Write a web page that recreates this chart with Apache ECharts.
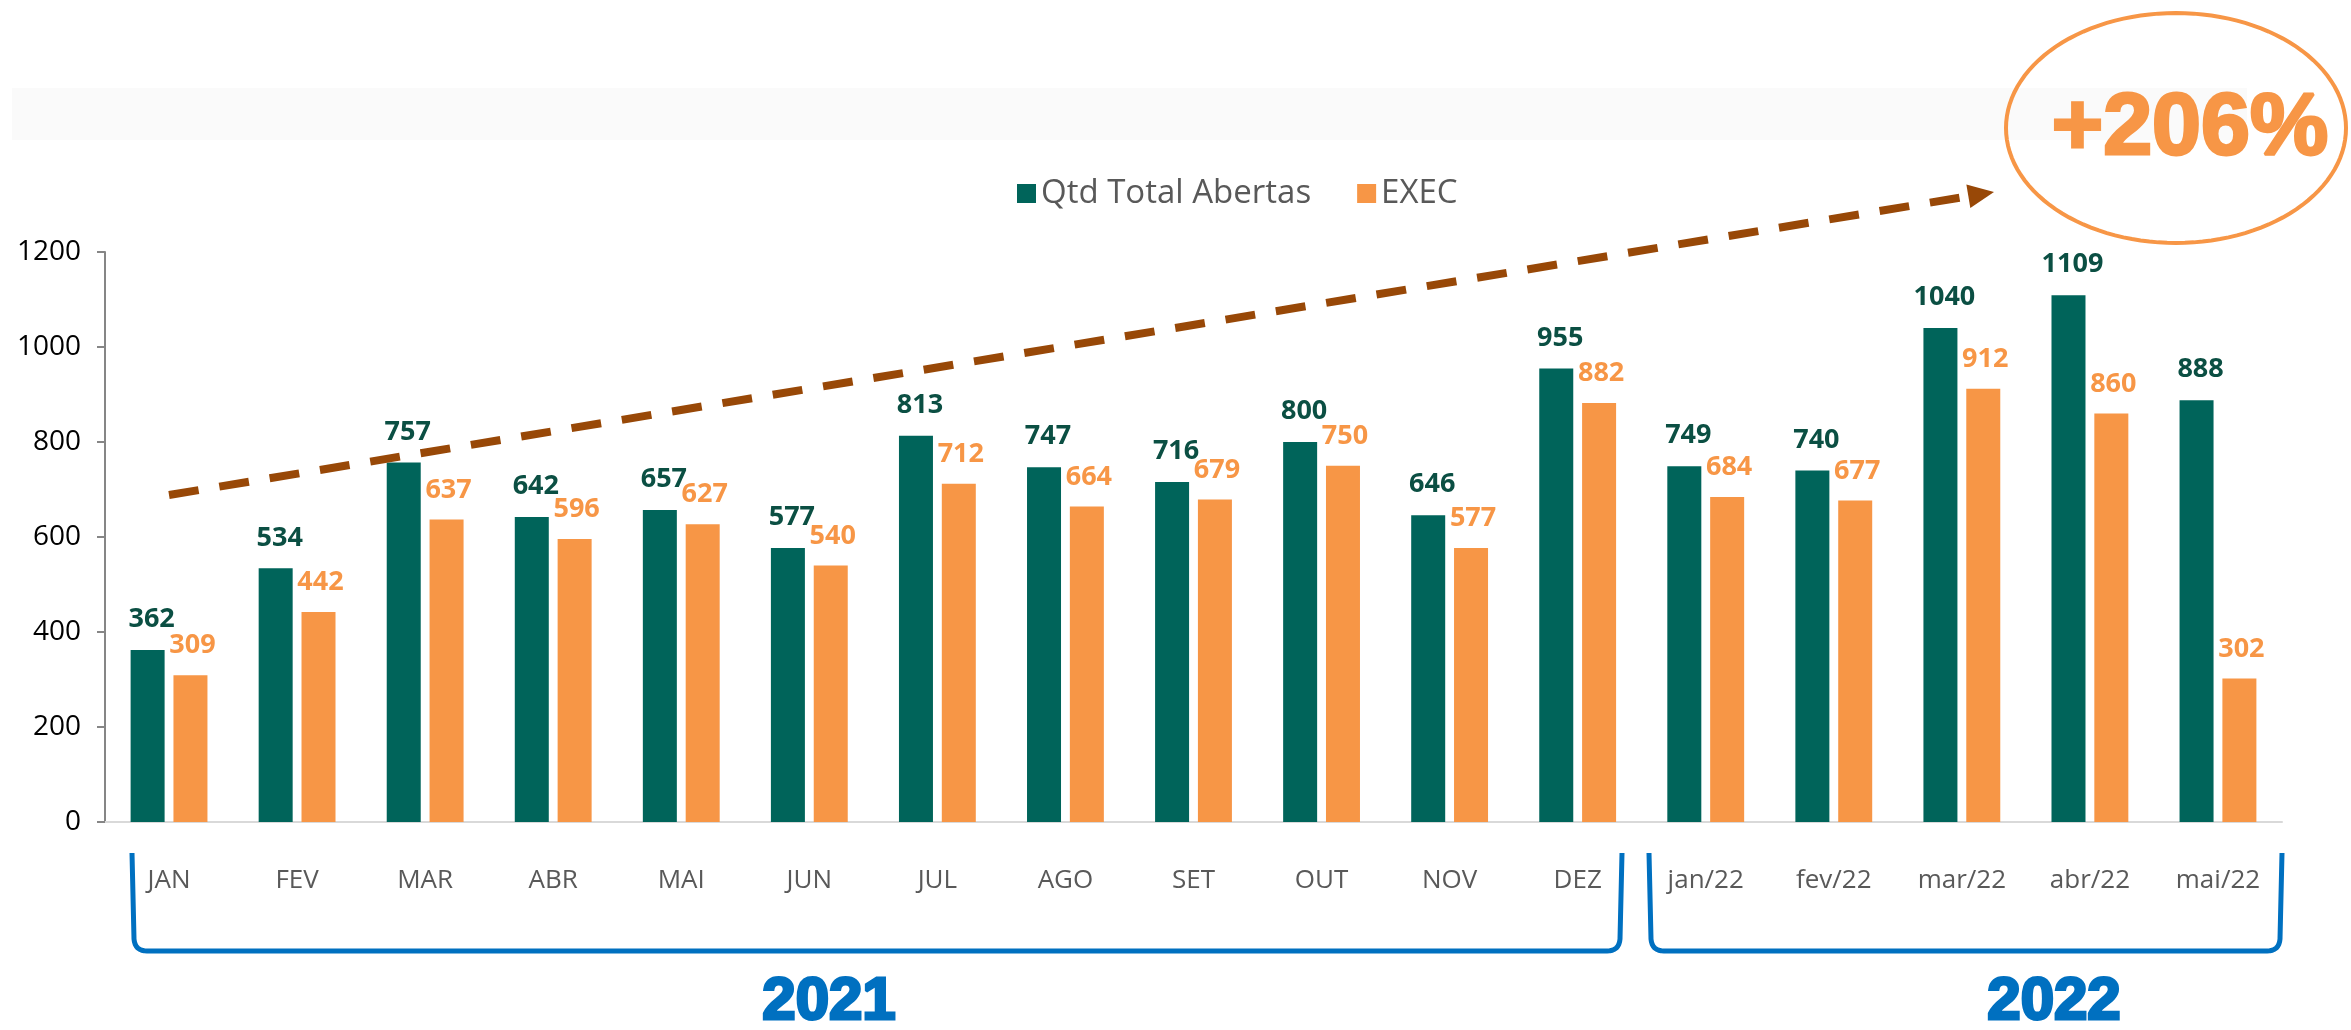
<!DOCTYPE html>
<html>
<head>
<meta charset="utf-8">
<script src="https://cdn.jsdelivr.net/npm/echarts@6/dist/echarts.min.js"></script>
<style>
  html, body { margin: 0; padding: 0; background: #fff; }
  #chart { width: 2351px; height: 1030px; }
</style>
</head>
<body>
<div id="chart"></div>
<script>
// dados
const meses = ['JAN', 'FEV', 'MAR', 'ABR', 'MAI', 'JUN', 'JUL', 'AGO', 'SET', 'OUT', 'NOV', 'DEZ',
               'jan/22', 'fev/22', 'mar/22', 'abr/22', 'mai/22'];
const totalAbertas = [362, 534, 757, 642, 657, 577, 813, 747, 716, 800, 646, 955, 749, 740, 1040, 1109, 888];
const executadas = [309, 442, 637, 596, 627, 540, 712, 664, 679, 750, 577, 882, 684, 677, 912, 860, 302];
const yTicks = [0, 200, 400, 600, 800, 1000, 1200];

const verde = '#00645A';
const laranja = '#F79646';
const azul = '#0070C0';
const marrom = '#984807';
const fonte = '"Open Sans", "Noto Sans", sans-serif';

const chart = echarts.init(document.getElementById('chart'));

// pontos de uma curva quadrática
function quad(p0, c, p1, n) {
  const pts = [];
  for (let i = 0; i <= n; i++) {
    const t = i / n, a = (1 - t) * (1 - t), b = 2 * (1 - t) * t, d = t * t;
    pts.push([a * p0[0] + b * c[0] + d * p1[0], a * p0[1] + b * c[1] + d * p1[1]]);
  }
  return pts;
}

// chave (colchete) desenhada abaixo dos meses
function chave(x1, x2) {
  const top = 853, base = 951;
  const pts = [[x1, top]]
    .concat(quad([x1 + 2, base - 12], [x1 + 3, base], [x1 + 15, base], 8))
    .concat(quad([x2 - 15, base], [x2 - 3, base], [x2 - 2, base - 12], 8))
    .concat([[x2, top]]);
  return {
    type: 'polyline',
    shape: { points: pts },
    style: { fill: null, stroke: azul, lineWidth: 5, lineJoin: 'round' }
  };
}

// contorno da elipse
function elipse(cx, cy, rx, ry) {
  const pts = [];
  for (let i = 0; i <= 120; i++) {
    const a = i / 120 * Math.PI * 2;
    pts.push([cx + rx * Math.cos(a), cy + ry * Math.sin(a)]);
  }
  return {
    type: 'polyline',
    shape: { points: pts },
    style: { fill: null, stroke: laranja, lineWidth: 4 }
  };
}

// seta tracejada
const p0 = [169, 495], tip = [1994, 192];
const dx = tip[0] - p0[0], dy = tip[1] - p0[1];
const len = Math.sqrt(dx * dx + dy * dy);
const ux = dx / len, uy = dy / len;
const nx = -uy, ny = ux;
const headLen = 26, headW = 12;
const bx = tip[0] - headLen * ux, by = tip[1] - headLen * uy;

const option = {
  backgroundColor: '#fff',
  textStyle: { fontFamily: fonte },
  legend: {
    top: 172,
    left: 1012,
    icon: 'rect',
    itemWidth: 19,
    itemHeight: 19,
    itemGap: 46,
    textStyle: { fontSize: 33, color: '#595959', fontFamily: fonte }
  },
  grid: { left: 105, right: 69, top: 252, bottom: 208, containLabel: false },
  xAxis: {
    type: 'category',
    data: meses,
    axisLine: { lineStyle: { color: '#D9D9D9', width: 2 } },
    axisTick: { show: false },
    axisLabel: { color: '#595959', fontSize: 26, margin: 46, fontFamily: fonte }
  },
  yAxis: {
    type: 'value',
    min: yTicks[0],
    max: yTicks[yTicks.length - 1],
    interval: 200,
    splitLine: { show: false },
    axisLine: { show: true, lineStyle: { color: '#868686', width: 2 } },
    axisTick: { show: true, length: 8, lineStyle: { color: '#868686', width: 2 } },
    axisLabel: {
      color: '#000', fontSize: 28, margin: 24, fontFamily: fonte,
      formatter: v => String(v)
    }
  },
  series: [
    {
      name: 'Qtd Total Abertas',
      type: 'bar',
      data: totalAbertas,
      barWidth: 34,
      barGap: '26%',
      itemStyle: { color: verde },
      label: {
        show: true, position: 'top', distance: 17, offset: [4, 0],
        color: '#0B4F43', fontWeight: 'bold', fontSize: 27, fontFamily: fonte
      }
    },
    {
      name: 'EXEC',
      type: 'bar',
      data: executadas,
      barWidth: 34,
      itemStyle: { color: laranja },
      label: {
        show: true, position: 'top', distance: 16, offset: [2, 0],
        color: laranja, fontWeight: 'bold', fontSize: 27, fontFamily: fonte
      }
    }
  ],
  graphic: [
    // faixa cinza clara no topo
    { type: 'rect', z: -10, shape: { x: 12, y: 88, width: 2235, height: 52 }, style: { fill: '#FAFAFA' } },
    chave(132, 1622),
    chave(1649, 2282),
    {
      type: 'text', x: 829, y: 1002,
      style: {
        text: '2021', fill: azul, stroke: azul, lineWidth: 3,
        font: 'bold 60px "Liberation Sans", Arial, sans-serif',
        align: 'center', verticalAlign: 'middle'
      }
    },
    {
      type: 'text', x: 2054, y: 1002,
      style: {
        text: '2022', fill: azul, stroke: azul, lineWidth: 3,
        font: 'bold 60px "Liberation Sans", Arial, sans-serif',
        align: 'center', verticalAlign: 'middle'
      }
    },
    {
      type: 'line', z: 50,
      shape: { x1: p0[0], y1: p0[1], x2: bx, y2: by },
      style: { stroke: marrom, lineWidth: 8, lineDash: [30, 21] }
    },
    {
      type: 'polygon', z: 50,
      shape: { points: [tip, [bx + headW * nx, by + headW * ny], [bx - headW * nx, by - headW * ny]] },
      style: { fill: marrom }
    },
    elipse(2176, 128, 170, 115),
    {
      type: 'text', x: 2190, y: 130,
      style: {
        text: '+206%', fill: laranja, stroke: laranja, lineWidth: 3,
        font: 'bold 88px "Liberation Sans", Arial, sans-serif',
        align: 'center', verticalAlign: 'middle'
      }
    }
  ]
};

chart.setOption(option);
</script>
</body>
</html>
